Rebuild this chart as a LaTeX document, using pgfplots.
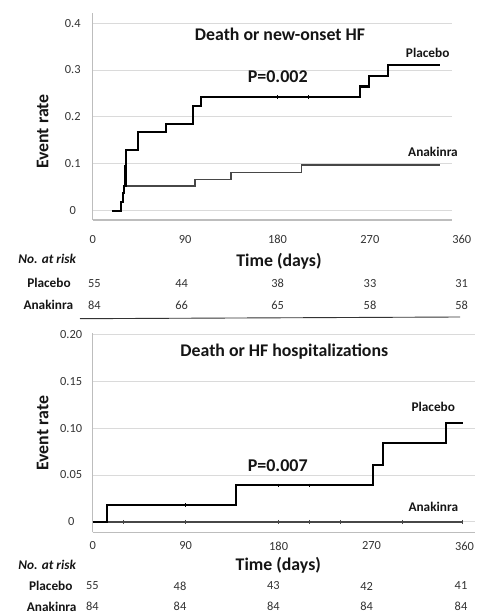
\documentclass[border=0pt]{standalone}
\usepackage{fontspec}
\setmainfont{Carlito}
\usepackage{pgfplots}
\pgfplotsset{compat=1.18}
\definecolor{gridc}{HTML}{DADADA}
\definecolor{axisc}{HTML}{BDBDBD}
\definecolor{txt}{HTML}{151515}
\definecolor{numc}{HTML}{333333}
\definecolor{anak}{HTML}{474747}
\newcommand{\bigf}{\fontsize{17.8}{21}\selectfont\bfseries}
\newcommand{\medf}{\fontsize{13.3}{16}\selectfont\bfseries}
\newcommand{\numf}{\fontsize{12.4}{14}\selectfont}
\begin{document}
\begin{tikzpicture}[x=1pt,y=1pt]
\path[use as bounding box] (0,0) rectangle (478,614);
%================ TOP PANEL
\begin{axis}[
  at={(92.7pt,394pt)}, anchor=south west,
  scale only axis, width=359pt, height=206.7pt,
  xmin=0, xmax=349.7, ymin=-0.02, ymax=0.421,
  axis x line=bottom, axis y line=left,
  axis line style={-, draw=axisc, line width=1.1pt},
  xtick={0,90,180,270}, xticklabels={0,90,180,270},
  ytick={0,0.1,0.2,0.3,0.4}, yticklabels={0,0.1,0.2,0.3,0.4},
  major tick length=0pt,
  ymajorgrids, grid style={draw=gridc, line width=0.9pt},
  ticklabel style={font=\numf, text=numc},
  yticklabel style={anchor=center, xshift=-20pt},
  xticklabel style={anchor=center, yshift=-19.3pt},
  clip=false,
]
\addplot[const plot, draw=anak, line width=1.6pt] coordinates {
 (19.2,0) (27.5,0.019) (29.5,0.037) (30.8,0.052) (99.5,0.066) (134.5,0.081) (203.5,0.097) (338.5,0.097)};
\addplot[const plot, draw=black, line width=2.2pt] coordinates {
 (19.2,0) (27.5,0.019) (29.5,0.037) (30.8,0.052) (32,0.094) (32.8,0.13) (44.3,0.167) (71.5,0.185) (97.5,0.223) (105.5,0.242) (260.5,0.265) (269.5,0.288) (288,0.31) (338.5,0.31)};
\addplot[only marks, mark=|, mark size=2pt, draw=black, line width=0.8pt] coordinates {(180,0.242) (210,0.242)};
\end{axis}
%================ BOTTOM PANEL
\begin{axis}[
  at={(92.7pt,81.7pt)}, anchor=south west,
  scale only axis, width=382.2pt, height=199.3pt,
  xmin=0, xmax=370, ymin=-0.0113, ymax=0.202,
  axis x line=bottom, axis y line=left,
  axis line style={-, draw=axisc, line width=1.1pt},
  xtick={0,90,180,270,360}, xticklabels={0,90,180,270,360},
  ytick={0,0.05,0.10,0.15,0.20}, yticklabels={0,0.05,0.10,0.15,0.20},
  major tick length=0pt,
  ymajorgrids, grid style={draw=gridc, line width=0.9pt},
  ticklabel style={font=\numf, text=numc},
  yticklabel style={anchor=center, xshift=-21.5pt},
  xticklabel style={anchor=center, yshift=-13.7pt},
  clip=false,
]
\addplot[const plot, draw=anak, line width=1.6pt] coordinates {(0,0) (358.2,0)};
\addplot[only marks, mark=|, mark size=1.8pt, draw=anak, line width=0.8pt] coordinates {(30,0) (90,0) (180,0) (210,0) (240,0) (300,0) (358.2,0)};
\addplot[const plot, draw=black, line width=2.2pt] coordinates {
 (0,0) (14.1,0.018) (138.7,0.039) (271,0.061) (280.7,0.084) (341.7,0.106) (358.2,0.106)};
\addplot[only marks, mark=|, mark size=1.8pt, draw=black, line width=0.8pt] coordinates {(90,0.018) (180,0.039) (210,0.039)};
\end{axis}
%================ TEXT (pixel y -> 614 - y)
\begin{scope}[every node/.style={text=txt, inner sep=0pt}]
% top
\node at (280,614-34.3) {\bigf Death or new-onset HF};
\node at (277.7,614-76.7) {\fontsize{18}{21}\selectfont\bfseries P=0.002};
\node at (427.7,614-52.7) {\medf Placebo};
\node at (433,614-152) {\medf Anakinra};
\node[rotate=90] at (42.7,614-131.7) {\bigf Event rate};
\node[text=numc] at (461.7,614-239.3) {\numf 360};
\node at (279,614-261.7) {\bigf Time (days)};
\node[anchor=west] at (18.3,614-259.3) {\medf\itshape No. at risk};
\node at (49,614-283.3) {\medf Placebo};
\node at (48.3,614-305) {\medf Anakinra};
\foreach \x/\v in {94.3/55,181.7/44,277.7/38,370/33,461.7/31}
  \node[text=numc] at (\x,614-283.3) {\numf \v};
\foreach \x/\v in {94.3/84,181.7/66,277.7/65,370/58,461.7/58}
  \node[text=numc] at (\x,614-305) {\numf \v};
\draw[draw=numc, line width=0.9pt] (80,614-318.7) -- (460,614-317);
% bottom
\node at (284.3,614-351.7) {\bigf Death or HF hospitalizations};
\node at (277.7,614-465.7) {\fontsize{18}{21}\selectfont\bfseries P=0.007};
\node at (433.3,614-407.3) {\medf Placebo};
\node at (433.3,614-507.3) {\medf Anakinra};
\node[rotate=90] at (42.7,614-433.3) {\bigf Event rate};
\node at (278.3,614-565.7) {\bigf Time (days)};
\node[anchor=west] at (18.3,614-565) {\medf\itshape No. at risk};
\node at (50.8,614-586) {\medf Placebo};
\node at (51.7,614-606.7) {\medf Anakinra};
\foreach \x/\v in {92.3/55,180/48,273.3/43,366.7/42,461/41}
  \node[text=numc] at (\x,614-586) {\numf \v};
\foreach \x/\v in {92.3/84,180/84,273.3/84,366.7/84,461/84}
  \node[text=numc] at (\x,614-606.7) {\numf \v};
\end{scope}
\end{tikzpicture}
\end{document}
